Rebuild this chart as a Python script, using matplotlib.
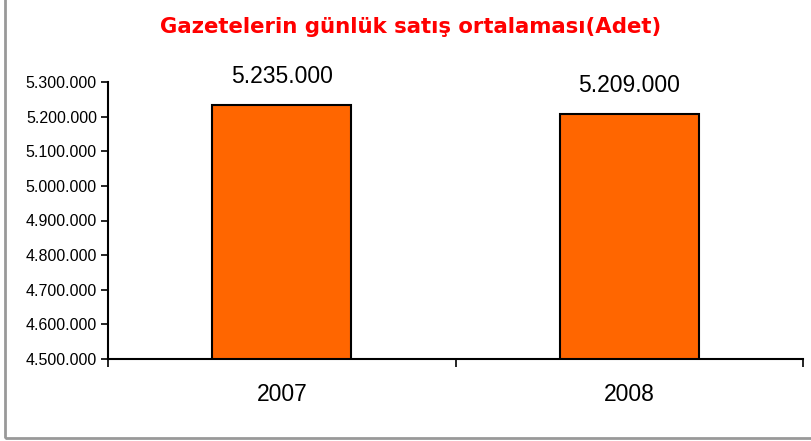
import matplotlib
import matplotlib.pyplot as plt
from matplotlib.patches import Rectangle
from matplotlib.ticker import FuncFormatter, MultipleLocator

matplotlib.use('Agg')

years = ['2007', '2008']
sales = [5235000, 5209000]
title = 'Gazetelerin günlük satış ortalaması(Adet)'

plt.rcParams['font.family'] = ['Liberation Sans', 'DejaVu Sans']


def tr_fmt(v, pos=None):
    return f"{v:,.0f}".replace(',', '.')


fig = plt.figure(figsize=(8.11, 4.41), dpi=100)
ax = fig.add_axes([108 / 811, 1 - 359 / 441, 695 / 811, 277 / 441])

x = range(len(years))
ax.bar(x, sales, width=0.4, color='#FF6600', edgecolor='black', linewidth=1.5)

ax.set_ylim(4500000, 5300000)
ax.set_xlim(-0.5, len(years) - 0.5)
ax.yaxis.set_major_locator(MultipleLocator(100000))
ax.yaxis.set_major_formatter(FuncFormatter(tr_fmt))
ax.tick_params(axis='y', labelsize=11.5, length=5, width=1.2, pad=3)

# category labels between boundary ticks
ax.set_xticks([-0.5, 0.5, 1.5])
ax.set_xticklabels([])
ax.set_xticks(list(x), minor=True)
ax.set_xticklabels(years, minor=True, fontsize=16.5)
ax.tick_params(axis='x', which='major', length=6, width=1.2)
ax.tick_params(axis='x', which='minor', length=0, pad=17)

for s in ['top', 'right']:
    ax.spines[s].set_visible(False)
for s in ['left', 'bottom']:
    ax.spines[s].set_linewidth(1.5)

for i, v in enumerate(sales):
    ax.annotate(tr_fmt(v), (i, v), xytext=(0, 12), textcoords='offset points',
                ha='center', va='bottom', fontsize=16.5)

fig.text(411 / 811, 1 - 27 / 441, title, color='#FF0000', fontsize=15.3,
         fontweight='bold', family=['DejaVu Sans'], ha='center', va='center')

fig.add_artist(Rectangle((5 / 811, 3 / 441), 1.2, 1.2, transform=fig.transFigure,
                         fill=False, edgecolor='#999999', linewidth=2, clip_on=False))

fig.savefig('out.png', dpi=100)
